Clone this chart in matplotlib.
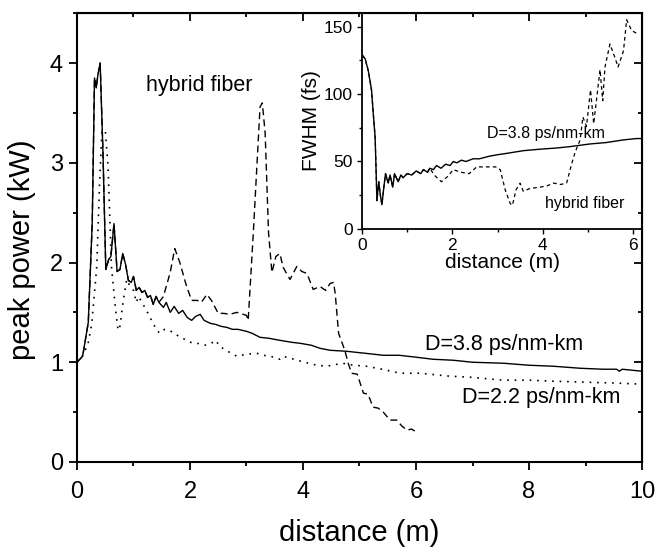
import numpy as np
import matplotlib
matplotlib.use("Agg")
import matplotlib.pyplot as plt
from matplotlib.ticker import MultipleLocator

plt.rcParams['font.family'] = ['Liberation Sans', 'DejaVu Sans']

# --- main panel: peak power (kW) vs distance (m) ---
d38 = [0.0, 0.1, 0.2, 0.27, 0.31, 0.34, 0.37, 0.41, 0.46, 0.51, 0.56, 0.60, 0.655, 0.71, 0.76,
       0.81, 0.86, 0.91, 0.96, 1.00, 1.05, 1.10, 1.15, 1.20, 1.25, 1.30, 1.35, 1.40, 1.45, 1.53,
       1.58, 1.65, 1.72, 1.80, 1.87, 1.95, 2.03, 2.10, 2.18, 2.25, 2.36, 2.45, 2.55, 2.65, 2.75,
       2.85, 3.00, 3.10, 3.24, 3.40, 3.59, 3.80, 3.95, 4.15, 4.30, 4.48, 4.77, 5.10, 5.42, 5.70,
       6.01, 6.30, 6.66, 7.00, 7.55, 8.00, 8.43, 8.90, 9.31, 9.55, 9.60, 9.65, 10.0]
p38 = [1.00, 1.06, 1.40, 2.40, 3.85, 3.75, 3.88, 4.00, 3.10, 1.93, 2.03, 2.06, 2.39, 1.91, 1.93,
       2.09, 1.98, 1.82, 1.80, 1.86, 1.72, 1.75, 1.70, 1.72, 1.65, 1.67, 1.58, 1.66, 1.60, 1.55,
       1.60, 1.50, 1.56, 1.49, 1.52, 1.45, 1.42, 1.46, 1.48, 1.42, 1.39, 1.38, 1.36, 1.35, 1.33,
       1.33, 1.31, 1.29, 1.25, 1.24, 1.22, 1.20, 1.19, 1.17, 1.14, 1.12, 1.11, 1.09, 1.07, 1.07,
       1.05, 1.03, 1.02, 1.00, 0.99, 0.97, 0.96, 0.94, 0.93, 0.93, 0.91, 0.93, 0.91]

d22 = [0.0, 0.12, 0.2, 0.26, 0.31, 0.35, 0.40, 0.44, 0.50, 0.55, 0.61, 0.67, 0.72, 0.75, 0.82,
       0.88, 0.94, 1.00, 1.05, 1.09, 1.15, 1.23, 1.30, 1.35, 1.41, 1.47, 1.55, 1.62, 1.70, 1.80,
       1.94, 2.05, 2.13, 2.25, 2.35, 2.46, 2.52, 2.58, 2.70, 2.83, 3.00, 3.18, 3.30, 3.42, 3.59,
       3.65, 3.90, 4.10, 4.24, 4.42, 4.70, 4.90, 5.12, 5.40, 5.72, 6.07, 6.60, 6.96, 7.55, 8.00,
       8.43, 9.00, 9.60, 10.0]
p22 = [1.00, 1.08, 1.20, 1.38, 1.70, 1.96, 2.80, 3.30, 3.33, 2.96, 1.96, 1.60, 1.35, 1.32, 1.62,
       1.83, 1.76, 1.72, 1.60, 1.66, 1.60, 1.52, 1.44, 1.39, 1.32, 1.29, 1.33, 1.32, 1.30, 1.26,
       1.22, 1.19, 1.19, 1.17, 1.18, 1.22, 1.16, 1.14, 1.10, 1.06, 1.08, 1.09, 1.07, 1.06, 1.03,
       1.06, 1.02, 0.99, 0.97, 0.96, 0.99, 0.97, 0.96, 0.93, 0.89, 0.89, 0.86, 0.85, 0.82, 0.82,
       0.81, 0.80, 0.79, 0.78]

# hybrid fiber follows D=3.8 up to ~1.45 m
d_hyb_tail = [1.53, 1.65, 1.73, 1.82, 1.94, 2.03, 2.13, 2.20, 2.30, 2.38, 2.50, 2.60, 2.70, 2.83,
              3.00, 3.03, 3.12, 3.24, 3.28, 3.33, 3.39, 3.45, 3.52, 3.59, 3.65, 3.71, 3.77, 3.89,
              3.98, 4.07, 4.18, 4.30, 4.40, 4.48, 4.54, 4.57, 4.63, 4.74, 4.80, 4.86, 4.96, 5.07,
              5.15, 5.24, 5.33, 5.42, 5.54, 5.66, 5.75, 5.84, 5.92, 6.01]
p_hyb_tail = [1.66, 1.90, 2.14, 2.00, 1.76, 1.62, 1.62, 1.60, 1.68, 1.62, 1.49, 1.49, 1.48, 1.50,
              1.47, 1.42, 2.29, 3.56, 3.60, 3.30, 2.30, 1.90, 2.06, 2.09, 1.95, 1.89, 1.83, 1.96,
              1.91, 1.89, 1.73, 1.76, 1.72, 1.79, 1.80, 1.69, 1.29, 1.12, 0.99, 0.89, 0.88, 0.69,
              0.68, 0.55, 0.54, 0.50, 0.42, 0.42, 0.36, 0.32, 0.33, 0.30]

# --- inset: FWHM (fs) vs distance (m) ---
di38 = [0.0, 0.07, 0.14, 0.21, 0.25, 0.29, 0.31, 0.33, 0.37, 0.41, 0.44, 0.48, 0.52, 0.58, 0.62,
        0.68, 0.72, 0.80, 0.86, 0.91, 1.0, 1.1, 1.2, 1.3, 1.36, 1.45, 1.5, 1.58, 1.65, 1.75,
        1.85, 1.95, 2.02, 2.1, 2.2, 2.3, 2.46, 2.6, 2.83, 3.0, 3.2, 3.57, 3.9, 4.31, 4.6,
        5.05, 5.4, 5.79, 6.08, 6.2]
f38 = [129, 126, 117, 103, 85, 68, 45, 21, 35, 24, 18, 30, 41, 34, 40,
       31, 41, 35, 40, 38, 41, 40, 43, 41, 44, 42, 45, 44, 47, 45,
       48, 47, 50, 49, 51, 50, 52, 52, 54, 55, 56, 58, 59, 60, 61,
       63, 64, 66, 67, 67]

di_hyb_tail = [1.6, 1.69, 1.76, 1.9, 2.02, 2.1, 2.2, 2.37, 2.54, 2.75, 2.96, 3.06, 3.17, 3.28,
               3.33, 3.41, 3.5, 3.57, 3.72, 3.94, 4.1, 4.24, 4.4, 4.53, 4.64, 4.72, 4.83, 4.89,
               4.97, 5.06, 5.13, 5.19, 5.27, 5.33, 5.38, 5.49, 5.6, 5.67, 5.79, 5.86, 5.97, 6.08]
f_hyb_tail = [40, 37, 35, 39, 44, 43, 42, 41, 46, 46, 46, 44, 29, 19,
              17.5, 29, 34, 28, 30, 31, 32, 34, 33, 34, 48, 57, 66, 83,
              76, 103, 78, 95, 118, 95, 120, 137, 127, 120, 132, 155, 147, 145]

n_main = sum(np.array(d38) <= 1.45)
d_hyb = d38[:n_main] + d_hyb_tail
p_hyb = p38[:n_main] + p_hyb_tail
n_ins = sum(np.array(di38) <= 1.5)
di_hyb = di38[:n_ins] + di_hyb_tail
f_hyb = f38[:n_ins] + f_hyb_tail

fig = plt.figure(figsize=(6.58, 5.49), dpi=100)
ax = fig.add_axes([0.117, 0.1585, 0.8587, 0.8175])

ax.plot(d38, p38, color='black', lw=1.0, ls='-')
ax.plot(d22, p22, color='black', lw=1.2, ls=(0, (1, 3.5)))
ax.plot(d_hyb, p_hyb, color='black', lw=1.0, ls=(0, (5, 3)))

ax.set_xlim(0, 10)
ax.set_ylim(0, 4.5)
ax.xaxis.set_major_locator(MultipleLocator(2))
ax.xaxis.set_minor_locator(MultipleLocator(1))
ax.yaxis.set_major_locator(MultipleLocator(1))
ax.yaxis.set_minor_locator(MultipleLocator(0.5))
ax.tick_params(which='both', direction='out', width=1.3, labelsize=17)
ax.tick_params(which='major', length=6)
ax.tick_params(which='minor', length=3)
ax.tick_params(axis='x', which='major', pad=8)
ax.tick_params(axis='y', which='major', pad=4)
for s in ax.spines.values():
    s.set_linewidth(1.5)

# inward ticks on top and right
top = ax.secondary_xaxis('top')
top.xaxis.set_major_locator(MultipleLocator(2))
top.xaxis.set_minor_locator(MultipleLocator(1))
top.tick_params(which='both', direction='in', width=1.3, labeltop=False)
top.tick_params(which='major', length=6)
top.tick_params(which='minor', length=3)
right = ax.secondary_yaxis('right')
right.yaxis.set_major_locator(MultipleLocator(1))
right.yaxis.set_minor_locator(MultipleLocator(0.5))
right.tick_params(which='both', direction='in', width=1.3, labelright=False)
right.tick_params(which='major', length=6)
right.tick_params(which='minor', length=3)

fig.text(22 / 658, 1 - 250 / 549, 'peak power (kW)', rotation=90, ha='center', va='center', fontsize=21)
fig.text(359.5 / 658, 1 - 533 / 549, 'distance (m)', ha='center', va='center', fontsize=21)

ax.text(1.23, 3.72, 'hybrid fiber', fontsize=15.5, va='baseline')
ax.text(6.16, 1.12, 'D=3.8 ps/nm-km', fontsize=15.5, va='baseline')
ax.text(6.81, 0.59, 'D=2.2 ps/nm-km', fontsize=15.5, va='baseline')

# --- inset ---
ins = fig.add_axes([0.5502, 0.5829, 0.4255, 0.3934])
ins.set_facecolor('none')
ins.plot(di38, f38, color='black', lw=1.0, ls='-')
ins.plot(di_hyb, f_hyb, color='black', lw=0.9, ls=(0, (3, 2.5)))
ins.set_xlim(0, 6.2)
ins.set_ylim(0, 160)
ins.xaxis.set_major_locator(MultipleLocator(2))
ins.xaxis.set_minor_locator(MultipleLocator(1))
ins.yaxis.set_major_locator(MultipleLocator(50))
ins.yaxis.set_minor_locator(MultipleLocator(25))
ins.tick_params(which='both', direction='out', width=1.0, labelsize=12.5, pad=3)
ins.tick_params(which='major', length=3.5)
ins.tick_params(which='minor', length=2)
for s in ins.spines.values():
    s.set_linewidth(1.3)
ins.set_xlabel('distance (m)', fontsize=15, labelpad=0)
ins.set_ylabel('FWHM (fs)', fontsize=15, labelpad=2)
ins.text(2.76, 67.3, 'D=3.8 ps/nm-km', fontsize=11.5, va='baseline')
ins.text(4.05, 15.5, 'hybrid fiber', fontsize=11.5, va='baseline')

fig.savefig('out.png', dpi=100)
